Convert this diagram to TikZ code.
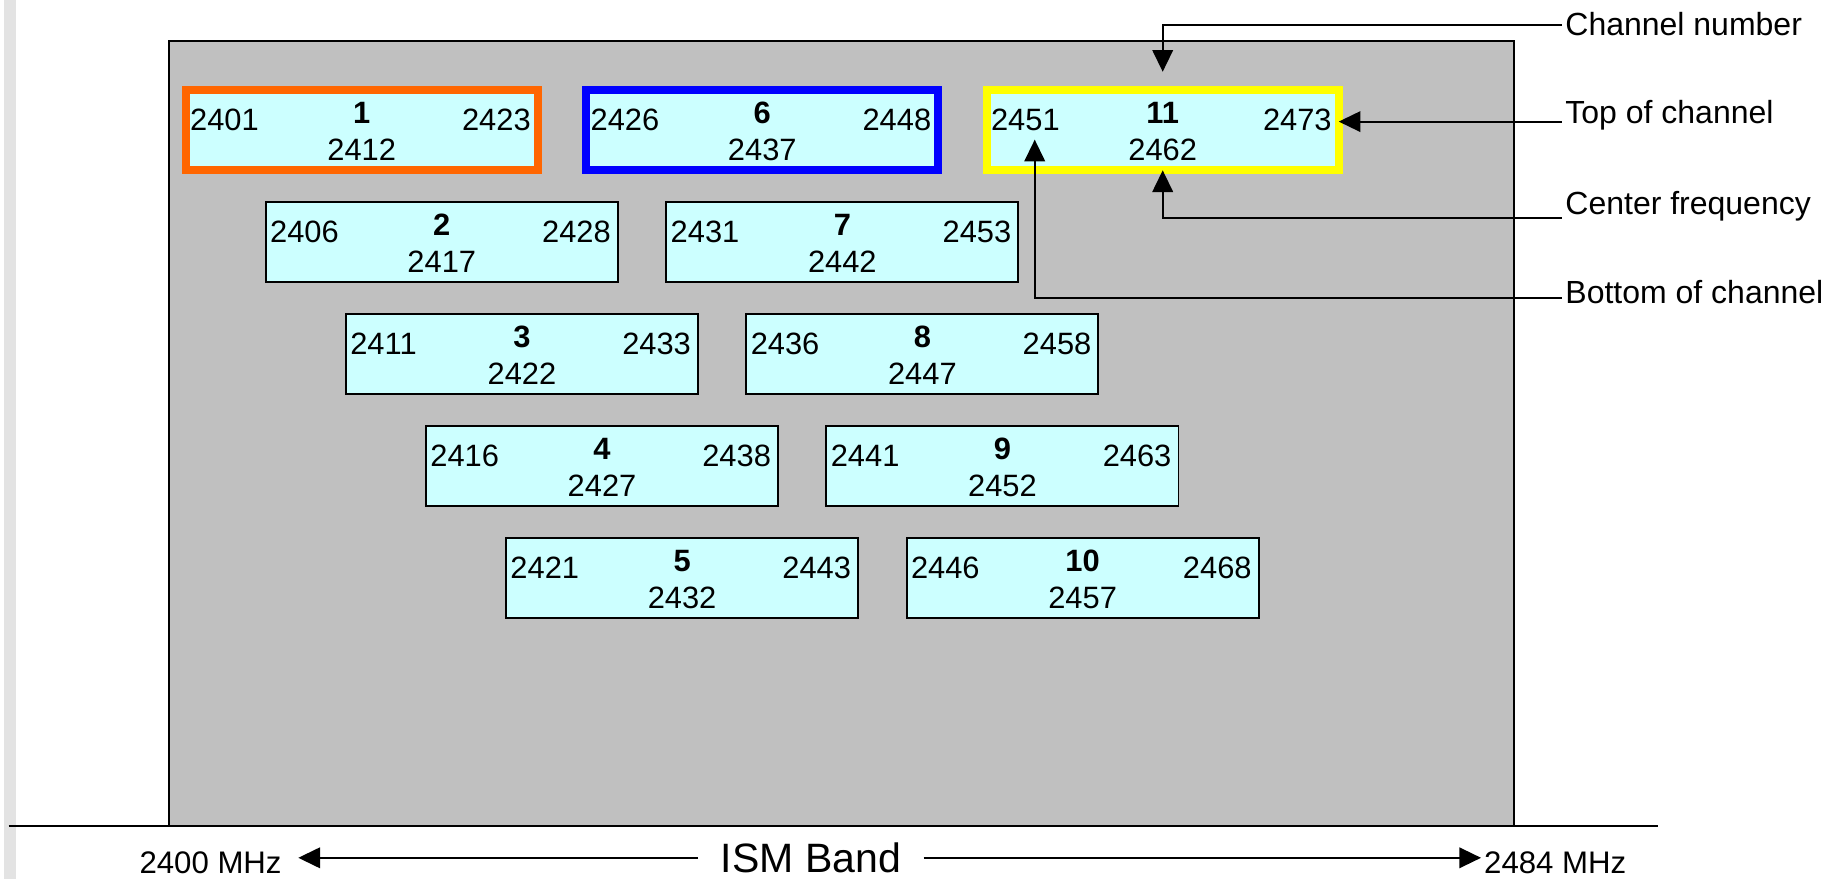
\documentclass[tikz,border=0pt]{standalone}
\usepackage{fontspec}
\setmainfont{Liberation Sans}
\usetikzlibrary{arrows.meta}

\definecolor{chanfill}{HTML}{CCFFFF}
\definecolor{bandgrey}{HTML}{C0C0C0}
\definecolor{stripgrey}{HTML}{E3E3E3}
\definecolor{hlorange}{HTML}{FF6600}
\definecolor{hlblue}{HTML}{0000FF}
\definecolor{hlyellow}{HTML}{FFFF00}

\begin{document}
\begin{tikzpicture}[
        x=0.025cm, y=-0.025cm,
        font=\fontsize{18.8}{22}\selectfont,
        chan/.style={draw, fill=chanfill, line width=1.2pt, anchor=north west, minimum width=7.54cm, minimum height=1.72cm, inner sep=0pt, outer sep=0pt},
        hot/.style={chan, draw=#1, line width=4.9pt},
        lower/.style={anchor=base west, inner sep=0pt, xshift=0.0875cm, yshift=-0.015cm},
        upper/.style={anchor=base east, inner sep=0pt, xshift=-0.145cm, yshift=-0.015cm},
        chno/.style={anchor=base, inner sep=0pt, yshift=-0.715cm, font=\fontsize{18.8}{22}\selectfont\bfseries},
        cfreq/.style={anchor=base, inner sep=0pt, yshift=0.2025cm},
        callout/.style={anchor=base west, inner sep=0pt, font=\fontsize{19.5}{23}\selectfont},
        arrow/.style={draw, line width=1.2pt, -{Triangle[length=0.465cm, width=0.44cm]}}
    ]
    \useasboundingbox (0,0) rectangle (1568,753);

    % band
    \fill[stripgrey] (3,0) rectangle (14,753);
    \draw[fill=bandgrey, line width=1.2pt] (145,35) rectangle (1297.5,707.6);
    \coordinate (axisl) at (7.4,707.6);
    \coordinate (axisr) at (1420.5,707.6);
    \draw[line width=1.2pt] (axisl) -- (axisr);

    % channels
    \node[hot=hlorange, label={[lower, name=ch1lo]180:2401}, label={[chno, name=ch1no]90:1}, label={[cfreq, name=ch1cf]270:2412}, label={[upper, name=ch1hi]0:2423}] (ch1) at (159.1,77.1) {};
    \node[chan, label={[lower, name=ch2lo]180:2406}, label={[chno, name=ch2no]90:2}, label={[cfreq, name=ch2cf]270:2417}, label={[upper, name=ch2hi]0:2428}] (ch2) at (227.7,173.0) {};
    \node[chan, label={[lower, name=ch3lo]180:2411}, label={[chno, name=ch3no]90:3}, label={[cfreq, name=ch3cf]270:2422}, label={[upper, name=ch3hi]0:2433}] (ch3) at (296.4,268.9) {};
    \node[chan, label={[lower, name=ch4lo]180:2416}, label={[chno, name=ch4no]90:4}, label={[cfreq, name=ch4cf]270:2427}, label={[upper, name=ch4hi]0:2438}] (ch4) at (365.0,364.8) {};
    \node[chan, label={[lower, name=ch5lo]180:2421}, label={[chno, name=ch5no]90:5}, label={[cfreq, name=ch5cf]270:2432}, label={[upper, name=ch5hi]0:2443}] (ch5) at (433.6,460.7) {};
    \node[hot=hlblue, label={[lower, name=ch6lo]180:2426}, label={[chno, name=ch6no]90:6}, label={[cfreq, name=ch6cf]270:2437}, label={[upper, name=ch6hi]0:2448}] (ch6) at (502.3,77.1) {};
    \node[chan, label={[lower, name=ch7lo]180:2431}, label={[chno, name=ch7no]90:7}, label={[cfreq, name=ch7cf]270:2442}, label={[upper, name=ch7hi]0:2453}] (ch7) at (570.9,173.0) {};
    \node[chan, label={[lower, name=ch8lo]180:2436}, label={[chno, name=ch8no]90:8}, label={[cfreq, name=ch8cf]270:2447}, label={[upper, name=ch8hi]0:2458}] (ch8) at (639.5,268.9) {};
    \node[chan, label={[lower, name=ch9lo]180:2441}, label={[chno, name=ch9no]90:9}, label={[cfreq, name=ch9cf]270:2452}, label={[upper, name=ch9hi]0:2463}] (ch9) at (708.1,364.8) {};
    \node[chan, label={[lower, name=ch10lo]180:2446}, label={[chno, name=ch10no]90:10}, label={[cfreq, name=ch10cf]270:2457}, label={[upper, name=ch10hi]0:2468}] (ch10) at (776.8,460.7) {};
    \node[hot=hlyellow, label={[lower, name=ch11lo]180:2451}, label={[chno, name=ch11no]90:11}, label={[cfreq, name=ch11cf]270:2462}, label={[upper, name=ch11hi]0:2473}] (ch11) at (845.4,77.1) {};

    % legend on the right
    \node[callout] (numlbl) at (1341,30.5) {Channel number};
    \node[callout] (toplbl) at (1341,106) {Top of channel};
    \node[callout] (midlbl) at (1341,184.2) {Center frequency};
    \node[callout] (botlbl) at (1341,260) {Bottom of channel};
    \coordinate (numtap) at (1338,21.4);
    \coordinate (toptap) at (1338,104.2);
    \coordinate (midtap) at (1338,186.5);
    \coordinate (bottap) at (1338,255);

    \draw[arrow, shorten >=0.39cm] (numtap) -| (ch11.north);
    \draw[arrow] (toptap) -- (toptap -| ch11.east);
    \draw[arrow] (midtap) -| (ch11.south);
    \draw[arrow] (bottap) -| ([xshift=0.2cm, yshift=-0.175cm]ch11lo.south);

    % frequency axis
    \node[inner xsep=0.48cm, font=\fontsize{25}{30}\selectfont] (ism) at (694.8,735) {ISM Band};
    \node[anchor=base east, inner xsep=0.35cm, inner ysep=0pt, font=\fontsize{19}{23}\selectfont] (bandlo) at (255.6,748.3) {2400 MHz};
    \node[anchor=base west, inner xsep=0.06cm, inner ysep=0pt, font=\fontsize{19}{23}\selectfont] (bandhi) at (1269,748.3) {2484 MHz};
    \draw[arrow] (ism.west) -- (ism.west -| bandlo.east);
    \draw[arrow] (ism.east) -- (ism.east -| bandhi.west);

\end{tikzpicture}
\end{document}
